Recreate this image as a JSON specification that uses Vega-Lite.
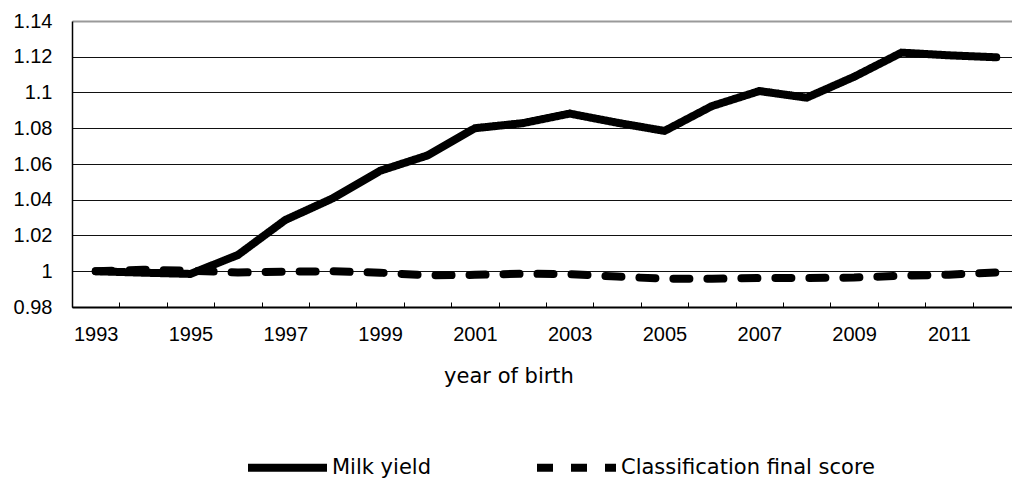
{
  "$schema": "https://vega.github.io/schema/vega-lite/v6.json",
  "width": 940,
  "height": 286,
  "autosize": {"type": "none"},
  "padding": {"left": 72, "top": 21, "right": 0, "bottom": 171},
  "background": "white",
  "config": {
    "font": "Liberation Sans",
    "view": {"stroke": null}
  },
  "data": {
    "values": [
      {"year": 1993, "series": "Milk yield", "value": 1.000},
      {"year": 1994, "series": "Milk yield", "value": 0.9992},
      {"year": 1995, "series": "Milk yield", "value": 0.9985},
      {"year": 1996, "series": "Milk yield", "value": 1.0091},
      {"year": 1997, "series": "Milk yield", "value": 1.0287},
      {"year": 1998, "series": "Milk yield", "value": 1.0408},
      {"year": 1999, "series": "Milk yield", "value": 1.0562},
      {"year": 2000, "series": "Milk yield", "value": 1.0648},
      {"year": 2001, "series": "Milk yield", "value": 1.0800},
      {"year": 2002, "series": "Milk yield", "value": 1.0828},
      {"year": 2003, "series": "Milk yield", "value": 1.0882},
      {"year": 2004, "series": "Milk yield", "value": 1.0831},
      {"year": 2005, "series": "Milk yield", "value": 1.0785},
      {"year": 2006, "series": "Milk yield", "value": 1.0924},
      {"year": 2007, "series": "Milk yield", "value": 1.1008},
      {"year": 2008, "series": "Milk yield", "value": 1.0971},
      {"year": 2009, "series": "Milk yield", "value": 1.1088},
      {"year": 2010, "series": "Milk yield", "value": 1.1223},
      {"year": 2011, "series": "Milk yield", "value": 1.1208},
      {"year": 2012, "series": "Milk yield", "value": 1.1197},
      {"year": 1993, "series": "Classification final score", "value": 1.000},
      {"year": 1994, "series": "Classification final score", "value": 1.0008},
      {"year": 1995, "series": "Classification final score", "value": 1.0003},
      {"year": 1996, "series": "Classification final score", "value": 0.9993},
      {"year": 1997, "series": "Classification final score", "value": 0.9998},
      {"year": 1998, "series": "Classification final score", "value": 1.0000},
      {"year": 1999, "series": "Classification final score", "value": 0.9992},
      {"year": 2000, "series": "Classification final score", "value": 0.9977},
      {"year": 2001, "series": "Classification final score", "value": 0.9980},
      {"year": 2002, "series": "Classification final score", "value": 0.9986},
      {"year": 2003, "series": "Classification final score", "value": 0.9984},
      {"year": 2004, "series": "Classification final score", "value": 0.9970},
      {"year": 2005, "series": "Classification final score", "value": 0.9958},
      {"year": 2006, "series": "Classification final score", "value": 0.9958},
      {"year": 2007, "series": "Classification final score", "value": 0.9962},
      {"year": 2008, "series": "Classification final score", "value": 0.9962},
      {"year": 2009, "series": "Classification final score", "value": 0.9965},
      {"year": 2010, "series": "Classification final score", "value": 0.9975},
      {"year": 2011, "series": "Classification final score", "value": 0.9981},
      {"year": 2012, "series": "Classification final score", "value": 0.9993}
    ]
  },
  "mark": {"type": "line", "stroke": "black", "strokeWidth": 8, "strokeCap": "round", "clip": false},
  "encoding": {
    "x": {
      "field": "year",
      "type": "ordinal",
      "bandPosition": 0.5,
      "scale": {"type": "band", "paddingInner": 0, "paddingOuter": 0, "range": [0, 948]},
      "axis": {
        "title": "year of birth",
        "titleFont": "DejaVu Sans",
        "titleFontSize": 21,
        "titleFontWeight": "normal",
        "titleColor": "black",
        "titleX": 436.5,
        "titleY": 75,
        "titleAlign": "center",
        "titleBaseline": "alphabetic",
        "labelExpr": "datum.value % 2 == 1 ? datum.label : ''",
        "labelOverlap": false,
        "labelAngle": 0,
        "labelFontSize": 20,
        "labelColor": "black",
        "labelPadding": 22,
        "tickBand": "extent",
        "ticks": true,
        "tickSize": -5,
        "tickColor": "black",
        "tickWidth": 1,
        "domainColor": "black",
        "domainWidth": 2,
        "grid": false
      }
    },
    "y": {
      "field": "value",
      "type": "quantitative",
      "scale": {"domain": [0.98, 1.14], "nice": false, "zero": false},
      "axis": {
        "title": null,
        "values": [0.98, 1.0, 1.02, 1.04, 1.06, 1.08, 1.1, 1.12, 1.14],
        "format": "~g",
        "labelFontSize": 20,
        "labelColor": "black",
        "labelPadding": 20,
        "ticks": false,
        "domainColor": "black",
        "domainWidth": 1.5,
        "grid": true,
        "gridColor": {"condition": {"test": "datum.value > 1.13", "value": "#9a9a9a"}, "value": "#111"},
        "gridWidth": {"condition": {"test": "datum.value > 1.13", "value": 2}, "value": 1}
      }
    },
    "strokeDash": {
      "field": "series",
      "type": "nominal",
      "scale": {"domain": ["Milk yield", "Classification final score"], "range": [[1, 0], [16, 18]]},
      "legend": {
        "title": null,
        "orient": "none",
        "direction": "horizontal",
        "legendX": 172,
        "legendY": 403,
        "symbolType": "stroke",
        "symbolSize": 6241,
        "symbolStrokeWidth": 8,
        "symbolStrokeColor": "black",
        "labelFont": "DejaVu Sans",
        "labelFontSize": 21,
        "labelColor": "black",
        "labelLimit": 0,
        "labelOffset": 1,
        "columnPadding": 90
      }
    }
  }
}
